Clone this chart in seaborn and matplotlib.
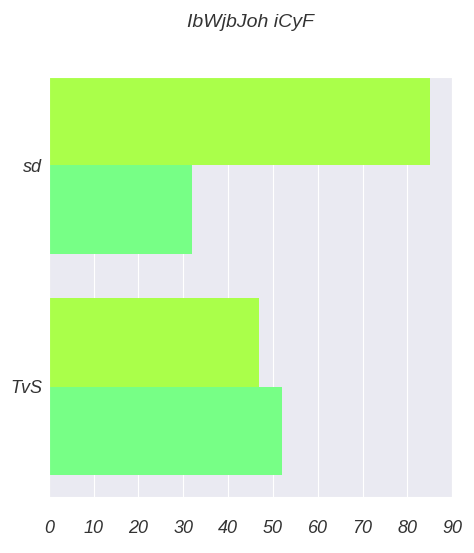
import pandas as pd
import matplotlib.pyplot as plt
import seaborn as sns

categories = ['sd', 'TvS']
series_names = ['A', 'B']
series_a = [85, 47]
series_b = [32, 52]
colors = ['#aaff4a', '#77ff86']

df = pd.DataFrame({
    'cat': categories * 2,
    'series': [series_names[0]] * 2 + [series_names[1]] * 2,
    'value': series_a + series_b,
})

sns.set_style('darkgrid')
plt.rcParams['font.family'] = ['Liberation Sans', 'DejaVu Sans']

fig = plt.figure(figsize=(4.74, 5.53), dpi=100)
ax = fig.add_axes([0.103, 0.101, 0.851, 0.76])
sns.barplot(data=df, y='cat', x='value', hue='series', palette=colors,
            orient='h', ax=ax, legend=False, saturation=1, linewidth=0)
ax.set_xlim(0, 90)
ax.set_ylim(1.5, -0.4)
ax.set_xticks(range(0, 91, 10))
ax.set_xlabel('')
ax.set_ylabel('')
ax.tick_params(axis='x', pad=13)
ax.tick_params(axis='y', pad=1.5)
for lbl in ax.get_xticklabels() + ax.get_yticklabels():
    lbl.set_fontstyle('italic')
    lbl.set_fontsize(13)
    lbl.set_color('#333333')
# title sits over the axes centre, not the figure centre
fig.suptitle('IbWjbJoh iCyF', x=0.528, fontsize=14, fontstyle='italic', y=0.975, color='#333333')
fig.savefig('out.png', dpi=100)
